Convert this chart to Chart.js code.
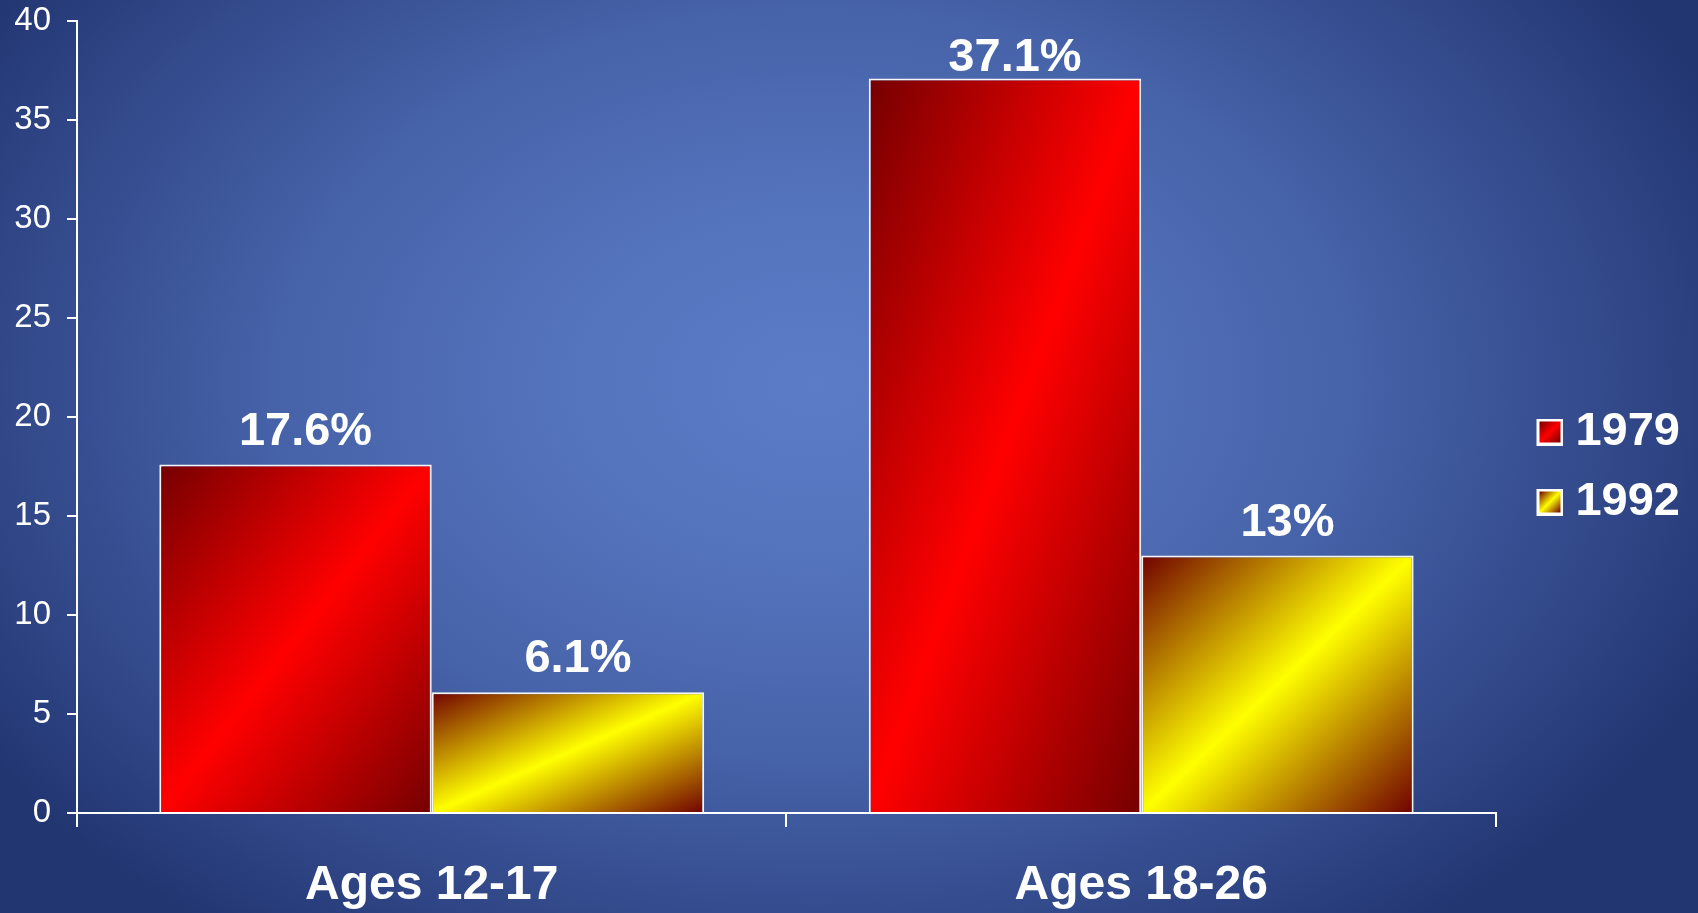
<!DOCTYPE html>
<html>
<head>
<meta charset="utf-8">
<script src="https://cdn.jsdelivr.net/npm/chart.js@4/dist/chart.umd.min.js"></script>
<style>
  html, body { margin: 0; padding: 0; }
  body {
    width: 1698px; height: 913px; overflow: hidden;
    background: radial-gradient(ellipse 58% 75% at 48% 42%, #5c7cc7 0%, #5574be 25%, #4662a8 55%, #2f4585 85%, #223672 100%);
  }
  #wrap { position: relative; width: 1698px; height: 913px; }
</style>
</head>
<body>
<div id="wrap"><canvas id="drugChart"></canvas></div>
<script>
// values
const categories = ['Ages 12-17', 'Ages 18-26'];
const years = ['1979', '1992'];
const values1979 = [17.6, 37.1];
const values1992 = [6.1, 13];
const yTicks = [0, 5, 10, 15, 20, 25, 30, 35, 40];

const FONT = '"Liberation Sans", Arial, sans-serif';
const redStops = ['#750000', '#ff0000', '#750000'];
const goldStops = ['#700000', '#ffff00', '#700000'];
const LEGEND_BOX = 33;

// gradient whose bands run parallel to the box's bottom-left/top-right diagonal
function boxGradient(ctx, left, top, right, bottom, stops) {
    const w = right - left, h = bottom - top;
    const cx = (left + right) / 2, cy = (top + bottom) / 2;
    const k = (w * h) / (w * w + h * h);
    const g = ctx.createLinearGradient(cx - k * h, cy - k * w, cx + k * h, cy + k * w);
    stops.forEach((c, i) => g.addColorStop(i / (stops.length - 1), c));
    return g;
}

function barFill(stops) {
    return function(c) {
        const chart = c.chart;
        if (!chart.chartArea || c.type !== 'data') return stops[1];
        const xs = chart.scales.x, ys = chart.scales.y;
        const catW = (xs.right - xs.left) / categories.length;
        const barW = catW * chart.options.datasets.bar.categoryPercentage / chart.data.datasets.length;
        const left = xs.getPixelForValue(c.dataIndex) - barW + c.datasetIndex * barW;
        const top = ys.getPixelForValue(c.raw);
        const bottom = ys.getPixelForValue(0);
        return boxGradient(chart.ctx, left, top, left + barW, bottom, stops);
    };
}

// legend swatch with white frame, sitting at the right end of its image
function swatch(stops) {
    const cv = document.createElement('canvas');
    cv.width = LEGEND_BOX + 23; cv.height = 27;
    const g = cv.getContext('2d');
    const x0 = cv.width - 27;
    g.fillStyle = '#ffffff';
    g.fillRect(x0, 0, 27, 27);
    g.fillStyle = boxGradient(g, x0 + 3, 3, x0 + 24, 24, stops);
    g.fillRect(x0 + 3, 3, 21, 21);
    return cv;
}

const valueLabels = {
    id: 'valueLabels',
    afterDatasetsDraw(chart) {
        const ctx = chart.ctx;
        ctx.save();
        ctx.font = 'bold 47px ' + FONT;
        ctx.fillStyle = '#ffffff';
        ctx.textAlign = 'center';
        ctx.textBaseline = 'alphabetic';
        chart.data.datasets.forEach((ds, di) => {
            chart.getDatasetMeta(di).data.forEach((bar, i) => {
                const y = Math.max(bar.y - 20, chart.chartArea.top + 50);
                ctx.fillText(ds.data[i] + '%', bar.x + 10, y);
            });
        });
        ctx.restore();
    }
};

new Chart('drugChart', {
    type: 'bar',
    data: {
        labels: categories,
        datasets: [
            { label: years[0], data: values1979, backgroundColor: barFill(redStops) },
            { label: years[1], data: values1992, backgroundColor: barFill(goldStops) },
        ]
    },
    plugins: [valueLabels],
    options: {
        responsive: true,
        maintainAspectRatio: false,
        animation: false,
        datasets: {
            bar: {
                categoryPercentage: 0.768,
                barPercentage: 1,
                borderColor: '#f6f6f6',
                borderWidth: 2,
                borderSkipped: 'bottom',
            }
        },
        layout: { padding: { left: 0, top: 21, right: 8, bottom: 0 } },
        plugins: {
            tooltip: { enabled: false },
            legend: {
                position: 'right',
                labels: {
                    color: '#ffffff',
                    font: { family: FONT, size: 47, weight: 'bold' },
                    usePointStyle: true,
                    boxWidth: LEGEND_BOX,
                    padding: 23,
                    generateLabels: () => [
                        { text: years[0], pointStyle: swatch(redStops), fillStyle: 'transparent', strokeStyle: 'transparent', lineWidth: 0, fontColor: '#ffffff', datasetIndex: 0, hidden: false },
                        { text: years[1], pointStyle: swatch(goldStops), fillStyle: 'transparent', strokeStyle: 'transparent', lineWidth: 0, fontColor: '#ffffff', datasetIndex: 1, hidden: false },
                    ]
                }
            }
        },
        scales: {
            x: {
                afterFit: s => { s.height = 100; s.paddingLeft = 0; s.paddingRight = 0; },
                grid: { display: true, drawOnChartArea: false, drawTicks: true, tickLength: 14, color: '#ffffff', lineWidth: 2 },
                border: { display: true, color: '#ffffff', width: 2 },
                ticks: { color: '#ffffff', padding: 30, font: { family: FONT, size: 48, weight: 'bold' } }
            },
            y: {
                min: yTicks[0],
                max: yTicks[yTicks.length - 1],
                afterBuildTicks: axis => { axis.ticks = yTicks.map(v => ({ value: v })); },
                afterFit: s => { s.width = 77; s.paddingTop = 0; s.paddingBottom = 0; },
                grid: { display: true, drawOnChartArea: false, drawTicks: true, tickLength: 10, color: '#ffffff', lineWidth: 2 },
                border: { display: true, color: '#ffffff', width: 2 },
                ticks: { color: '#ffffff', padding: 16, font: { family: FONT, size: 33 } }
            }
        }
    }
});
</script>
</body>
</html>
